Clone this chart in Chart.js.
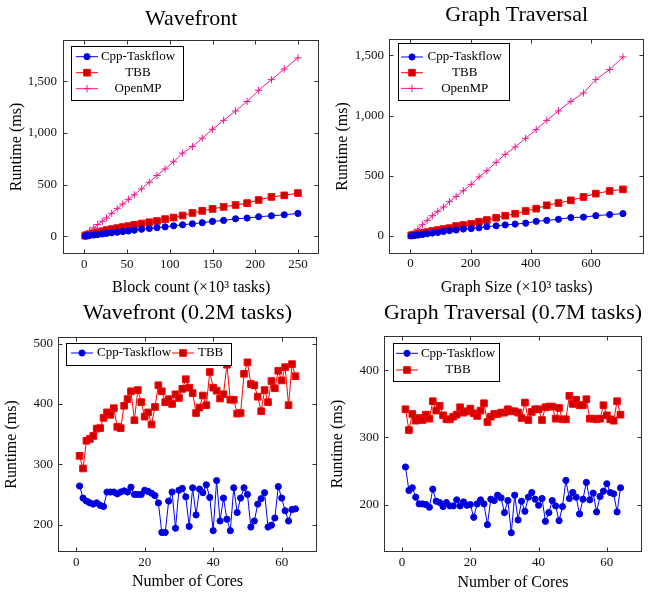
<!DOCTYPE html>
<html>
<head>
<meta charset="utf-8">
<script src="https://cdn.jsdelivr.net/npm/chart.js@4.4.0/dist/chart.umd.min.js"></script>
<style>
  html, body { margin: 0; padding: 0; background: #fff; overflow: hidden; }
  .panel { position: absolute; }
</style>
</head>
<body>
<div class="panel" style="left:0;top:0;width:325px;height:300px"><canvas id="wf-size"></canvas></div>
<div class="panel" style="left:325px;top:0;width:325px;height:300px"><canvas id="gt-size"></canvas></div>
<div class="panel" style="left:0;top:295px;width:325px;height:300px"><canvas id="wf-cores"></canvas></div>
<div class="panel" style="left:325px;top:295px;width:325px;height:300px"><canvas id="gt-cores"></canvas></div>
<script>
// Wavefront, runtime vs block count (x10^3 tasks)
const wfBlocks = [1, 2.5, 6, 11, 15.5, 21, 26, 32, 38.5, 45, 51.5, 58.5, 67, 76, 85, 94.5, 104.5, 115, 126.5, 138, 150, 163, 177, 190.5, 204, 219, 234, 250]
const wfTaskflow = [1, 3, 7, 11, 15, 21, 26, 32, 38, 44, 50, 58, 67, 75, 82, 90, 100, 110, 120, 130, 143, 152, 168, 175, 188, 197, 207, 220]
const wfTBB = [4, 10, 18, 27, 37, 47, 58, 68, 78, 88, 97, 110, 122, 135, 147, 165, 180, 200, 225, 245, 264, 283, 302, 320, 350, 380, 395, 417]
const wfOpenMP = [5, 22, 51, 80, 112, 144, 176, 221, 266, 311, 356, 401, 458, 522, 587, 651, 721, 804, 869, 949, 1035, 1122, 1212, 1304, 1413, 1516, 1619, 1727]

// Graph traversal, runtime vs graph size (x10^3 tasks)
const gtSize = [3, 12, 25, 40, 56, 73, 91, 110, 130, 152, 176, 202, 228, 254, 285, 315, 348, 383, 418, 453, 492, 533, 575, 616, 662, 706]
const gtTaskflow = [1, 4, 8, 13, 19, 25, 30, 38, 45, 50, 58, 62, 68, 78, 85, 92, 99, 107, 122, 130, 139, 153, 157, 169, 178, 186]
const gtTBB = [6, 11, 19, 25, 33, 42, 50, 58, 66, 83, 91, 102, 119, 133, 152, 169, 185, 208, 227, 255, 274, 296, 324, 352, 374, 387]
const gtOpenMP = [11, 30, 58, 94, 130, 169, 205, 241, 285, 329, 376, 429, 490, 542, 612, 678, 739, 811, 883, 960, 1038, 1118, 1187, 1298, 1381, 1486]

// runtime vs number of cores
const cores = [1, 2, 3, 4, 5, 6, 7, 8, 9, 10, 11, 12, 13, 14, 15, 16, 17, 18, 19, 20, 21, 22, 23, 24, 25, 26, 27, 28, 29, 30, 31, 32,
  33, 34, 35, 36, 37, 38, 39, 40, 41, 42, 43, 44, 45, 46, 47, 48, 49, 50, 51, 52, 53, 54, 55, 56, 57, 58, 59, 60, 61, 62, 63, 64]
const wfCoresTaskflow = [264, 244, 239, 236, 234, 236, 232, 230, 254, 254, 254, 251, 254, 256, 254, 262, 250, 250, 250, 257,
  255, 252, 248, 236, 187, 187, 239, 254, 194, 257, 260, 246, 197, 261, 216, 259, 253, 266, 245, 190,
  273, 206, 244, 209, 190, 261, 220, 244, 261, 250, 196, 206, 234, 243, 253, 196, 199, 211, 263, 244, 223, 206, 225, 226]
const wfCoresTBB = [314, 293, 339, 342, 347, 359, 360, 377, 386, 382, 393, 362, 360, 397, 408, 421, 373, 423, 403, 379,
  386, 366, 395, 431, 421, 403, 408, 400, 416, 410, 425, 441, 427, 418, 385, 394, 414, 398, 453, 427,
  422, 409, 416, 465, 407, 407, 384, 385, 450, 469, 433, 431, 412, 388, 423, 403, 438, 426, 455, 439, 461, 398, 466, 446]
const gtCoresTaskflow = [256, 221, 225, 211, 201, 201, 200, 196, 223, 205, 203, 197, 203, 198, 198, 207, 198, 204, 199, 200,
  181, 201, 207, 201, 170, 208, 206, 214, 210, 188, 206, 158, 214, 177, 205, 190, 211, 218, 208, 199,
  209, 175, 188, 206, 198, 176, 197, 236, 209, 218, 211, 186, 208, 233, 207, 217, 189, 212, 220, 231, 218, 216, 189, 225]
const gtCoresTBB = [342, 311, 335, 325, 329, 326, 334, 328, 354, 340, 347, 333, 327, 327, 331, 334, 345, 337, 339, 343,
  336, 332, 340, 351, 323, 331, 335, 335, 337, 337, 342, 339, 339, 337, 329, 352, 326, 338, 342, 342,
  326, 345, 346, 346, 328, 344, 327, 327, 362, 350, 356, 348, 348, 357, 328, 328, 327, 328, 348, 333, 327, 325, 354, 334]

// tick labels
const wfSizeXTicks = [0, 50, 100, 150, 200, 250]
const gtSizeXTicks = [0, 200, 400, 600]
const sizeYTicks = [0, 500, 1000, 1500]
const coreXTicks = [0, 20, 40, 60]
const wfCoreYTicks = [200, 300, 400, 500]
const gtCoreYTicks = [200, 300, 400]

Chart.defaults.font.family = "'Liberation Serif', 'Times New Roman', serif"

const styles = {
  taskflow: { label: 'Cpp-Taskflow', borderColor: '#0000ff', backgroundColor: '#0000cc', pointStyle: 'circle', pointRadius: 3.1 },
  tbb: { label: 'TBB', borderColor: '#ff0000', backgroundColor: '#cc0000', pointStyle: 'rect', pointRadius: 4.7 },
  openmp: { label: 'OpenMP', borderColor: 'rgb(236, 24, 142)', backgroundColor: 'rgb(236, 24, 142)', pointStyle: 'cross', pointRadius: 3.6 },
}

function series(style, xs, ys) {
  return {
    ...styles[style],
    data: xs.map((x, i) => ({ x, y: ys[i] })),
    borderWidth: 1,
    pointBorderWidth: 1,
    tension: 0,
    fill: false,
  }
}

function drawMarker(ctx, ds, x, y) {
  const r = ds.pointRadius
  ctx.fillStyle = ds.backgroundColor
  ctx.strokeStyle = ds.borderColor
  ctx.lineWidth = 1
  ctx.beginPath()
  if (ds.pointStyle === 'circle') {
    ctx.arc(x, y, r, 0, Math.PI * 2)
    ctx.fill()
    ctx.stroke()
  } else if (ds.pointStyle === 'rect') {
    const s = r * Math.SQRT1_2
    ctx.rect(x - s, y - s, 2 * s, 2 * s)
    ctx.fill()
    ctx.stroke()
  } else {
    ctx.moveTo(x - r, y)
    ctx.lineTo(x + r, y)
    ctx.moveTo(x, y - r)
    ctx.lineTo(x, y + r)
    ctx.stroke()
  }
}

// pgfplots look: closed box, inward ticks on all sides, framed legend
const pgfAxis = {
  id: 'pgfAxis',
  afterDraw(chart, args, opts) {
    const { ctx, chartArea: a, scales } = chart
    const left = Math.round(a.left) + 0.5
    const right = Math.round(a.right) - 0.5
    const top = Math.round(a.top) + 0.5
    const bottom = Math.round(a.bottom) - 0.5
    const len = 4

    ctx.save()
    ctx.strokeStyle = '#333'
    ctx.lineWidth = 1
    ctx.beginPath()
    scales.x.ticks.forEach(t => {
      const px = Math.round(scales.x.getPixelForValue(t.value)) + 0.5
      ctx.moveTo(px, bottom)
      ctx.lineTo(px, bottom - len)
      ctx.moveTo(px, top)
      ctx.lineTo(px, top + len)
    })
    scales.y.ticks.forEach(t => {
      const py = Math.round(scales.y.getPixelForValue(t.value)) + 0.5
      ctx.moveTo(left, py)
      ctx.lineTo(left + len, py)
      ctx.moveTo(right, py)
      ctx.lineTo(right - len, py)
    })
    ctx.stroke()
    ctx.strokeRect(left, top, right - left, bottom - top)

    const lg = opts.legend
    if (lg) {
      const [bx, by, bw, bh] = lg.box
      ctx.fillStyle = '#fff'
      ctx.fillRect(bx, by, bw, bh)
      ctx.strokeStyle = '#000'
      ctx.strokeRect(Math.round(bx) + 0.5, Math.round(by) + 0.5, Math.round(bw), Math.round(bh))
      chart.data.datasets.forEach((ds, i) => {
        const x = lg.x + i * lg.dx
        const y = lg.y + i * lg.dy
        ctx.strokeStyle = ds.borderColor
        ctx.lineWidth = 1
        ctx.beginPath()
        ctx.moveTo(x, y)
        ctx.lineTo(x + 22, y)
        ctx.stroke()
        drawMarker(ctx, ds, x + 11, y)
        ctx.fillStyle = '#000'
        ctx.font = "13px 'Liberation Serif', 'Times New Roman', serif"
        ctx.textBaseline = 'middle'
        if (lg.dx) {
          ctx.textAlign = 'left'
          ctx.fillText(ds.label, x + 26, y)
        } else {
          ctx.textAlign = 'center'
          ctx.fillText(ds.label, x + lg.textCenter, y)
        }
      })
    }
    ctx.restore()
  },
}

function buildChart(id, o) {
  const ctx = document.getElementById(id).getContext('2d')
  return new Chart(ctx, {
    type: 'line',
    data: { datasets: o.datasets },
    plugins: [pgfAxis],
    options: {
      responsive: true,
      maintainAspectRatio: false,
      animation: false,
      events: [],
      layout: { padding: { left: 0, right: o.padRight, top: 0, bottom: 0 } },
      plugins: {
        legend: { display: false },
        tooltip: { enabled: false },
        title: {
          display: true,
          text: o.title,
          fullSize: false,
          color: '#000',
          font: { size: 22, weight: 'normal' },
          padding: { top: o.titlePad[0], bottom: o.titlePad[1] },
        },
        pgfAxis: { legend: o.legend },
      },
      scales: {
        x: {
          type: 'linear',
          min: o.xRange[0],
          max: o.xRange[1],
          grid: { display: false, drawTicks: false },
          border: { display: false },
          ticks: {
            padding: o.xTickPad,
            color: '#111',
            font: { size: 13 },
            maxRotation: 0,
            autoSkip: false,
            callback: v => v.toLocaleString('en-US'),
          },
          afterBuildTicks: s => { s.ticks = o.xTicks.map(v => ({ value: v })) },
          afterFit: s => { s.height = o.xHeight },
          title: {
            display: true,
            text: o.xTitle,
            color: '#000',
            font: { size: 16 },
            padding: { top: 0, bottom: o.xTitlePad },
          },
        },
        y: {
          type: 'linear',
          min: o.yRange[0],
          max: o.yRange[1],
          grid: { display: false, drawTicks: false },
          border: { display: false },
          ticks: {
            padding: o.yTickPad,
            color: '#111',
            font: { size: 13 },
            autoSkip: false,
            callback: v => v.toLocaleString('en-US'),
          },
          afterBuildTicks: s => { s.ticks = o.yTicks.map(v => ({ value: v })) },
          afterFit: s => { s.width = o.yWidth },
          title: {
            display: true,
            text: 'Runtime (ms)',
            color: '#000',
            font: { size: 16 },
            padding: { top: o.yTitlePad, bottom: 0 },
          },
        },
      },
    },
  })
}

buildChart('wf-size', {
  title: 'Wavefront',
  titlePad: [6, 7.6],
  datasets: [series('taskflow', wfBlocks, wfTaskflow), series('tbb', wfBlocks, wfTBB), series('openmp', wfBlocks, wfOpenMP)],
  xRange: [-25, 275], xTicks: wfSizeXTicks, xTitle: 'Block count (×10³ tasks)',
  yRange: [-173, 1900], yTicks: sizeYTicks,
  padRight: 3, yWidth: 63, xHeight: 46, xTickPad: 3, yTickPad: 6, xTitlePad: 2.4, yTitlePad: 7.4,
  legend: { box: [71, 46, 112, 54], x: 76, y: 56.7, dx: 0, dy: 16, textCenter: 62 },
})

buildChart('gt-size', {
  title: 'Graph Traversal',
  titlePad: [2.3, 10.3],
  datasets: [series('taskflow', gtSize, gtTaskflow), series('tbb', gtSize, gtTBB), series('openmp', gtSize, gtOpenMP)],
  xRange: [-71, 777], xTicks: gtSizeXTicks, xTitle: 'Graph Size (×10³ tasks)',
  yRange: [-149, 1635], yTicks: sizeYTicks,
  padRight: 2, yWidth: 64, xHeight: 46, xTickPad: 2, yTickPad: 5, xTitlePad: 2.4, yTitlePad: 8.6,
  legend: { box: [72.7, 43, 110.6, 57], x: 76, y: 57, dx: 0, dy: 15.7, textCenter: 63.7 },
})

buildChart('wf-cores', {
  title: 'Wavefront (0.2M tasks)',
  titlePad: [4.6, 11],
  datasets: [series('taskflow', cores, wfCoresTaskflow), series('tbb', cores, wfCoresTBB)],
  xRange: [-5.3, 70.3], xTicks: coreXTicks, xTitle: 'Number of Cores',
  yRange: [154.6, 511], yTicks: wfCoreYTicks,
  padRight: 8, yWidth: 58, xHeight: 43, xTickPad: 2.5, yTickPad: 5, xTitlePad: 3.2, yTitlePad: 2,
  legend: { box: [66, 48, 165, 22], x: 71, y: 58, dx: 101, dy: 0 },
})

buildChart('gt-cores', {
  title: 'Graph Traversal (0.7M tasks)',
  titlePad: [4.6, 10],
  datasets: [series('taskflow', cores, gtCoresTaskflow), series('tbb', cores, gtCoresTBB)],
  xRange: [-5.3, 70.3], xTicks: coreXTicks, xTitle: 'Number of Cores',
  yRange: [129.3, 451.2], yTicks: gtCoreYTicks,
  padRight: 8, yWidth: 59, xHeight: 43, xTickPad: 2.5, yTickPad: 5, xTitlePad: 3, yTitlePad: 3,
  legend: { box: [67.7, 47.7, 106.3, 38.3], x: 71, y: 58.3, dx: 0, dy: 16.7, textCenter: 62 },
})
</script>
</body>
</html>
